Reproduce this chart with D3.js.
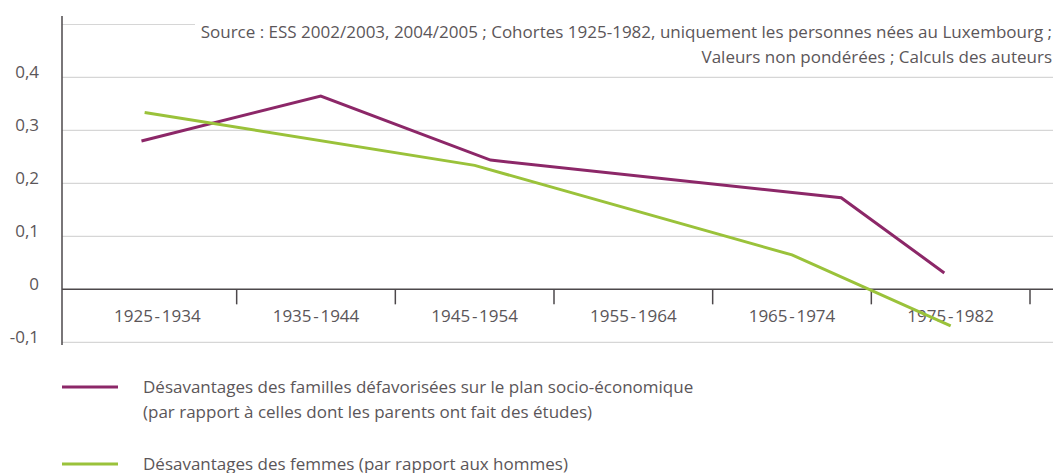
<!DOCTYPE html>
<html>
<head>
<meta charset="utf-8">
<script src="https://cdn.jsdelivr.net/npm/d3@7"></script>
<style>
  body { margin: 0; background: #fff; }
  svg { display: block; font-family: "Open Sans", sans-serif; }
</style>
</head>
<body>
<svg id="chart" width="1056" height="473"></svg>
<script>
// values (x = position in years, y = value)
const cohortLabels = ['1925-1934', '1935-1944', '1945-1954', '1955-1964', '1965-1974', '1975-1982'];
const cohortCentres = [1930, 1940, 1950, 1960, 1970, 1980];
const tickYears = [1935, 1945, 1955, 1965, 1975, 1985];
const yTicks = [-0.1, 0, 0.1, 0.2, 0.3, 0.4, 0.5];

const familyYears = [1929, 1940.3, 1951, 1973.1, 1979.6];
const familyValues = [0.28, 0.365, 0.244, 0.173, 0.031];
const womenYears = [1929.2, 1950, 1970, 1980];
const womenValues = [0.334, 0.234, 0.065, -0.069];

const seriesNames = [
    ['Désavantages des familles défavorisées sur le plan socio-économique',
     '(par rapport à celles dont les parents ont fait des études)'],
    ['Désavantages des femmes (par rapport aux hommes)']
];
const sourceLines = [
    'Source : ESS 2002/2003, 2004/2005 ; Cohortes 1925-1982, uniquement les personnes nées au Luxembourg ;',
    'Valeurs non pondérées ; Calculs des auteurs'
];

const purple = '#8c2768';
const green = '#9ac23a';
const textColor = '#5b5659';
const axisColor = '#4d484b';
const gridColor = '#d6d6d6';
const fontSize = 17;

const svg = d3.select('#chart');

const x = d3.scaleLinear().domain([1925, 1985]).range([78, 1030]);
const y = d3.scaleLinear().domain([-0.1, 0.5]).range([342.3, 24.5]);
const left = 62, right = 1053;

// gridlines
svg.append('g').selectAll('line')
    .data(yTicks.filter(d => d !== 0))
    .join('line')
    .attr('x1', left).attr('x2', right)
    .attr('y1', d => y(d)).attr('y2', d => y(d))
    .attr('stroke', gridColor).attr('stroke-width', 1.2);

// white box behind the source note
svg.append('rect')
    .attr('x', 195).attr('y', 14).attr('width', 861).attr('height', 56)
    .attr('fill', '#fff');

svg.append('g').selectAll('text')
    .data(sourceLines)
    .join('text')
    .attr('x', 1052)
    .attr('y', (d, i) => 38 + i * 25)
    .attr('text-anchor', 'end')
    .attr('font-size', fontSize)
    .attr('fill', textColor)
    .text(d => d);

// y labels
svg.append('g').selectAll('text')
    .data(yTicks.filter(d => d < 0.45))
    .join('text')
    .attr('x', 39)
    .attr('y', d => y(d) + 1)
    .attr('text-anchor', 'end')
    .attr('font-size', fontSize)
    .attr('fill', textColor)
    .text(d => d3.format('.1f')(d).replace('.', ',').replace('0,0', '0').replace('−', '-'));

// axes
svg.append('line')
    .attr('x1', left).attr('x2', left).attr('y1', 16).attr('y2', 345)
    .attr('stroke', axisColor).attr('stroke-width', 1.5);
svg.append('line')
    .attr('x1', left).attr('x2', right).attr('y1', y(0)).attr('y2', y(0))
    .attr('stroke', axisColor).attr('stroke-width', 1.5);

svg.append('g').selectAll('line')
    .data(tickYears)
    .join('line')
    .attr('x1', d => x(d)).attr('x2', d => x(d))
    .attr('y1', y(0)).attr('y2', y(0) + 15)
    .attr('stroke', axisColor).attr('stroke-width', 1.5);

svg.append('g').selectAll('text')
    .data(cohortLabels)
    .join('text')
    .attr('x', (d, i) => x(cohortCentres[i]))
    .attr('y', 322)
    .attr('text-anchor', 'middle')
    .attr('font-size', fontSize)
    .attr('fill', textColor)
    .text(d => d.replace('-', '\u200A-\u200A'));

// series
const line = d3.line().x(d => x(d[0])).y(d => y(d[1]));

svg.append('path')
    .datum(d3.zip(familyYears, familyValues))
    .attr('d', line)
    .attr('fill', 'none')
    .attr('stroke', purple)
    .attr('stroke-width', 3);

svg.append('path')
    .datum(d3.zip(womenYears, womenValues))
    .attr('d', line)
    .attr('fill', 'none')
    .attr('stroke', green)
    .attr('stroke-width', 3);

// legend
const legendColors = [purple, green];
const legendY = [387, 464];
seriesNames.forEach((lines, i) => {
    svg.append('line')
        .attr('x1', 62).attr('x2', 118)
        .attr('y1', legendY[i]).attr('y2', legendY[i])
        .attr('stroke', legendColors[i]).attr('stroke-width', 3);
    svg.append('g').selectAll('text')
        .data(lines)
        .join('text')
        .attr('x', 143)
        .attr('y', (d, j) => legendY[i] + 6 + j * 25)
        .attr('font-size', fontSize)
        .attr('fill', textColor)
        .text(d => d);
});
</script>
</body>
</html>
